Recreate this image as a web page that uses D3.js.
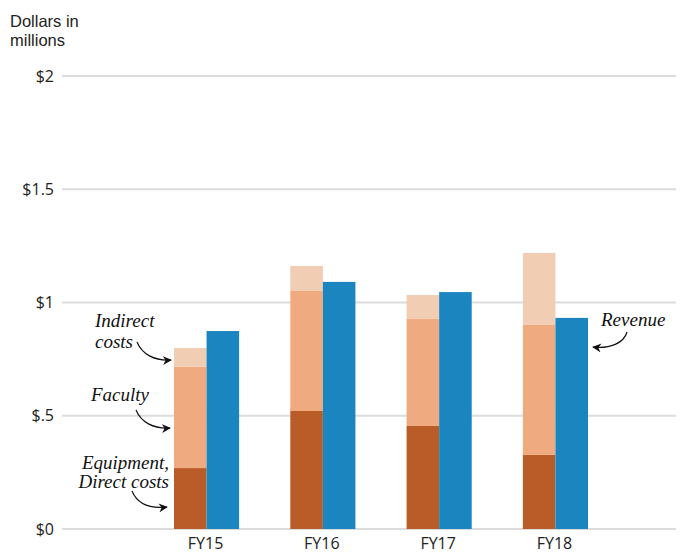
<!DOCTYPE html>
<html>
<head>
<meta charset="utf-8">
<script src="https://cdn.jsdelivr.net/npm/d3@7"></script>
<style>
  body { margin: 0; background: #fff; }
  svg { display: block; }
</style>
</head>
<body>
<script>
// Data (dollars in millions)
const years = ["FY15", "FY16", "FY17", "FY18"];
const equipment = [0.269, 0.521, 0.455, 0.327];
const faculty = [0.448, 0.530, 0.472, 0.574];
const indirect = [0.082, 0.110, 0.106, 0.318];
const revenue = [0.874, 1.091, 1.046, 0.932];
const yTicks = [0, 0.5, 1, 1.5, 2];
const yTickLabels = ["$0", "$.5", "$1", "$1.5", "$2"];
const titleLines = ["Dollars in", "millions"];

const width = 682, height = 554;
const sans = "'Open Sans', 'Noto Sans', sans-serif";
const serif = "'Liberation Serif', 'DejaVu Serif', serif";
const colors = {
  equipment: "#b95c28",
  faculty: "#f0aa80",
  indirect: "#f0cdb3",
  revenue: "#1b85c0"
};

const svg = d3.select("body").append("svg")
  .attr("width", width)
  .attr("height", height);

const y = d3.scaleLinear().domain([0, 2]).range([529, 76]);
const x = d3.scaleBand().domain(years).range([174, 588]).paddingInner(0.44).paddingOuter(0);
const xSub = d3.scaleBand().domain(["costs", "revenue"]).range([0, x.bandwidth()]);

// Title (two lines, tight leading)
svg.append("g")
  .selectAll("text")
  .data(titleLines)
  .join("text")
  .attr("x", 10)
  .attr("y", (d, i) => 27 + i * 18.5)
  .attr("font-family", "'Liberation Sans', Arial, sans-serif")
  .attr("font-size", 16.5).attr("fill", "#222")
  .text(d => d);

// Grid + y labels
const grid = svg.append("g");
grid.selectAll("line")
  .data(yTicks)
  .join("line")
  .attr("x1", 62).attr("x2", 676)
  .attr("y1", d => y(d)).attr("y2", d => y(d))
  .attr("stroke", "#dcdcdc").attr("stroke-width", 2);
grid.selectAll("text")
  .data(yTicks)
  .join("text")
  .attr("x", 54).attr("y", d => y(d))
  .attr("dy", "0.35em")
  .attr("text-anchor", "end")
  .attr("font-family", sans).attr("font-size", 16).attr("fill", "#222")
  .text((d, i) => yTickLabels[i]);

// Stacked cost bars
const stackRows = years.map((yr, i) => ({
  year: yr, equipment: equipment[i], faculty: faculty[i], indirect: indirect[i]
}));
const series = d3.stack().keys(["equipment", "faculty", "indirect"])(stackRows);

svg.append("g")
  .selectAll("g")
  .data(series)
  .join("g")
  .attr("fill", s => colors[s.key])
  .selectAll("rect")
  .data(s => s)
  .join("rect")
  .attr("x", d => x(d.data.year) + xSub("costs"))
  .attr("y", d => y(d[1]))
  .attr("width", xSub.bandwidth())
  .attr("height", d => y(d[0]) - y(d[1]));

// Revenue bars
svg.append("g")
  .selectAll("rect")
  .data(years)
  .join("rect")
  .attr("fill", colors.revenue)
  .attr("x", d => x(d) + xSub("revenue"))
  .attr("y", (d, i) => y(revenue[i]))
  .attr("width", xSub.bandwidth())
  .attr("height", (d, i) => y(0) - y(revenue[i]));

// X labels
svg.append("g")
  .selectAll("text")
  .data(years)
  .join("text")
  .attr("x", d => x(d) + x.bandwidth() / 2 - 1)
  .attr("y", 549)
  .attr("text-anchor", "middle")
  .attr("font-family", sans).attr("font-size", 16).attr("fill", "#222")
  .text(d => d);

// Annotations
svg.append("defs").append("marker")
  .attr("id", "arrow")
  .attr("viewBox", "0 0 10 10")
  .attr("refX", 9).attr("refY", 5)
  .attr("markerWidth", 9).attr("markerHeight", 9)
  .attr("markerUnits", "userSpaceOnUse")
  .attr("orient", "auto")
  .append("path")
  .attr("d", "M0,0 L10,5 L0,10 L3,5 Z")
  .attr("fill", "#111");

const notes = [
  { lines: ["Indirect", "costs"], x: [95, 95], y: [327, 348], anchor: "start",
    path: "M137,342 C142,354 154,361 171,360" },
  { lines: ["Faculty"], x: [91], y: [401], anchor: "start",
    path: "M136,410 C141,422 153,429 170,428" },
  { lines: ["Equipment,", "Direct costs"], x: [169, 169], y: [469, 488], anchor: "end",
    path: "M132,491 C137,503 149,509 167,507" },
  { lines: ["Revenue"], x: [601], y: [326], anchor: "start",
    path: "M627,332 C624,343 610,349 593,347" }
];

const ann = svg.append("g");
notes.forEach(n => {
  n.lines.forEach((l, i) => {
    ann.append("text")
      .attr("x", n.x[i]).attr("y", n.y[i])
      .attr("text-anchor", n.anchor)
      .attr("font-family", serif).attr("font-style", "italic")
      .attr("font-size", 19).attr("fill", "#111")
      .text(l);
  });
  ann.append("path")
    .attr("d", n.path)
    .attr("fill", "none")
    .attr("stroke", "#111")
    .attr("stroke-width", 1.2)
    .attr("marker-end", "url(#arrow)");
});
</script>
</body>
</html>
